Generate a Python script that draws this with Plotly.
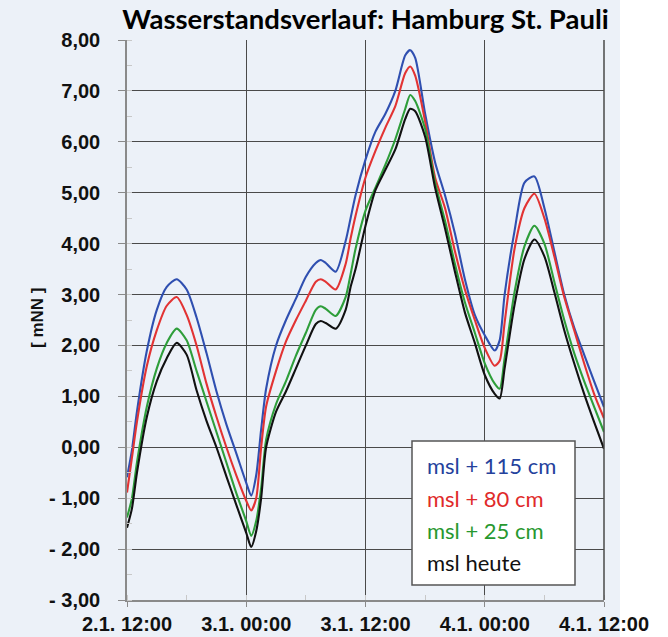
import plotly.graph_objects as go

# time in hours after 2.1. 12:00
hours = [0, 0.5, 1, 2, 3, 4, 5, 6, 7, 8, 9, 10, 11, 12, 12.5, 13, 13.5, 14, 15, 16,
         17, 18, 19, 19.5, 20, 21, 22, 22.5, 23, 24, 25, 26, 27, 28, 28.5, 29, 30,
         31, 32, 33, 34, 35, 36, 37, 37.5, 38, 39, 40, 41, 42, 43, 44, 45, 46, 47, 48]

msl_115 = [-0.59, -0.05, 0.70, 1.90, 2.70, 3.15, 3.30, 3.10, 2.55, 1.85, 1.10, 0.45, -0.12, -0.70, -0.95, -0.55, 0.35, 1.15, 2.00, 2.50,
           2.92, 3.35, 3.62, 3.68, 3.62, 3.45, 4.05, 4.50, 4.95, 5.65, 6.20, 6.55, 7.00, 7.70, 7.80, 7.65, 6.55,
           5.60, 4.95, 4.20, 3.30, 2.60, 2.20, 1.90, 2.10, 3.00, 4.25, 5.20, 5.32, 4.70, 3.85, 3.00, 2.35, 1.82, 1.30, 0.79]

msl_80 = [-0.89, -0.20, 0.50, 1.60, 2.30, 2.78, 2.95, 2.60, 2.00, 1.25, 0.60, 0.00, -0.55, -1.05, -1.24, -1.00, 0.00, 0.80, 1.50, 2.08,
          2.50, 2.88, 3.25, 3.30, 3.25, 3.10, 3.60, 4.10, 4.55, 5.30, 5.82, 6.28, 6.70, 7.35, 7.48, 7.30, 6.40,
          5.30, 4.70, 3.85, 3.10, 2.50, 1.95, 1.60, 1.70, 2.45, 3.90, 4.70, 4.98, 4.50, 3.75, 2.95, 2.30, 1.65, 1.05, 0.57]

msl_25 = [-1.38, -1.00, -0.30, 0.80, 1.55, 2.05, 2.33, 2.10, 1.50, 0.90, 0.30, -0.30, -0.90, -1.45, -1.74, -1.45, -0.80, 0.15, 0.85, 1.30,
          1.80, 2.25, 2.70, 2.77, 2.72, 2.58, 2.95, 3.40, 3.90, 4.65, 5.10, 5.55, 6.05, 6.65, 6.92, 6.80, 6.25,
          5.20, 4.45, 3.60, 2.85, 2.25, 1.65, 1.25, 1.15, 1.75, 3.05, 3.95, 4.35, 4.00, 3.25, 2.50, 1.85, 1.30, 0.80, 0.30]

msl_heute = [-1.58, -1.20, -0.50, 0.60, 1.30, 1.75, 2.05, 1.82, 1.12, 0.52, 0.00, -0.57, -1.13, -1.68, -1.96, -1.65, -1.00, 0.00, 0.70, 1.10,
             1.55, 2.00, 2.42, 2.48, 2.44, 2.33, 2.70, 3.15, 3.50, 4.35, 5.05, 5.45, 5.85, 6.45, 6.65, 6.60, 6.10,
             5.10, 4.30, 3.45, 2.65, 2.05, 1.42, 1.05, 0.96, 1.55, 2.80, 3.70, 4.08, 3.75, 3.05, 2.30, 1.65, 1.05, 0.50, -0.03]

series_names = ["msl + 115 cm", "msl + 80 cm", "msl + 25 cm", "msl heute"]
series_values = [msl_115, msl_80, msl_25, msl_heute]
series_colors = ["#2f4fb0", "#e23333", "#2e9e3a", "#111111"]
legend_colors = ["#24419c", "#e02a2a", "#27982f", "#111111"]

x_tickvals = [0, 12, 24, 36, 48]
x_ticktext = ["2.1. 12:00", "3.1. 00:00", "3.1. 12:00", "4.1. 00:00", "4.1. 12:00"]
y_tickvals = [-3, -2, -1, 0, 1, 2, 3, 4, 5, 6, 7, 8]
y_ticktext = ["- 3,00", "- 2,00", "- 1,00", "0,00", "1,00", "2,00", "3,00", "4,00", "5,00", "6,00", "7,00", "8,00"]

BG = "#ecf1f8"
GRID = "#4a4a4a"

fig = go.Figure()
for name, vals, col in zip(series_names, series_values, series_colors):
    fig.add_trace(go.Scatter(x=hours, y=vals, mode="lines", name=name,
                             line=dict(color=col, width=2.1, shape="spline", smoothing=0.7),
                             showlegend=False))

fig.update_layout(
    width=668, height=637,
    margin=dict(l=127, r=64, t=40, b=37),
    paper_bgcolor=BG, plot_bgcolor=BG,
    title=dict(text="<b>Wasserstandsverlauf: Hamburg St. Pauli</b>",
               font=dict(family="Lato", size=27.5, color="#000"),
               x=0.5, xref="paper", xanchor="center", y=1 - 19 / 637, yanchor="middle"),
    xaxis=dict(range=[0, 48], tickmode="array", tickvals=x_tickvals, ticktext=x_ticktext,
               showgrid=True, gridcolor=GRID, gridwidth=1.2, automargin=False,
               showline=True, linecolor="#8a8a8a", linewidth=1.5,
               ticks="outside", ticklen=5, tickcolor="#8a8a8a", ticklabelstandoff=0,
               minor=dict(tickmode="linear", tick0=0, dtick=6, ticks="inside", ticklen=5,
                          tickcolor="#c8c8c8", showgrid=False),
               tickfont=dict(family="Liberation Sans", size=20, color="#111", weight="bold"),
               zeroline=False, fixedrange=True),
    yaxis=dict(range=[-3, 8], tickmode="array", tickvals=y_tickvals, ticktext=y_ticktext,
               showgrid=True, gridcolor=GRID, gridwidth=1.2, automargin=False,
               showline=True, linecolor="#8a8a8a", linewidth=1.5,
               ticks="outside", ticklen=7, tickcolor="#8a8a8a", ticklabelstandoff=14,
               minor=dict(tickmode="linear", tick0=0, dtick=0.5, ticks="inside", ticklen=5,
                          tickcolor="#c8c8c8", showgrid=False),
               tickfont=dict(family="Liberation Sans", size=20, color="#111", weight="bold"),
               zeroline=False, fixedrange=True),
)

# right border of plot area and white strip at the far right
fig.add_shape(type="line", xref="paper", yref="paper", x0=1, x1=1, y0=0, y1=1,
              line=dict(color=GRID, width=1.5))
fig.add_shape(type="rect", xref="paper", yref="paper", x0=(620 - 127) / 477, x1=1.2,
              y0=-0.2, y1=1.2, fillcolor="white", line=dict(width=0), layer="below")

# y-axis unit label
fig.add_annotation(text="[ mNN ]", xref="paper", yref="paper", x=(37 - 127) / 477, y=(600 - 318) / 560,
                   textangle=-90, showarrow=False, xanchor="center", yanchor="middle",
                   font=dict(family="Liberation Sans", size=17, color="#111", weight="bold"))

# legend box
fig.add_shape(type="rect", xref="paper", yref="paper",
              x0=(412 - 127) / 477, x1=(575 - 127) / 477,
              y0=(600 - 585) / 560, y1=(600 - 441) / 560,
              fillcolor="white", line=dict(color="#555", width=1.5), layer="above")
legend_y = [465, 498, 530, 562]
for name, col, py in zip(series_names, legend_colors, legend_y):
    fig.add_annotation(text=name, xref="paper", yref="paper", x=(425 - 127) / 477,
                       y=(600 - py) / 560, xanchor="left", yanchor="middle", showarrow=False,
                       font=dict(family="Lato", size=22, color=col))

fig.write_html("out.html", config={"displayModeBar": False},
               post_script="document.body.style.margin='0';")
